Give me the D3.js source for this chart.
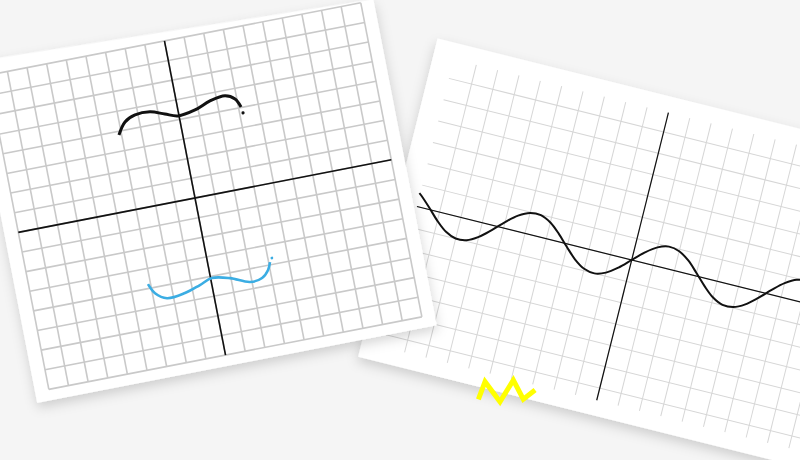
<!DOCTYPE html>
<html><head><meta charset="utf-8">
<script src="https://cdn.jsdelivr.net/npm/d3@7"></script>
<style>html,body{margin:0;padding:0;background:#f5f5f5;overflow:hidden}svg{display:block}</style>
</head><body>
<svg id="c" width="800" height="460"></svg>
<script>
// ---------- DATA (grid units) ----------
// left sheet
const leftXTicks = [-9,-8,-7,-6,-5,-4,-3,-2,-1,0,1,2,3,4,5,6,7,8,9,10];
const leftYTicks = [-8,-7,-6,-5,-4,-3,-2,-1,0,1,2,3,4,5,6,7,8];
const leftSheet = [[-9.7,8.8],[10.65,8.05],[10.65,-8.55],[-9.7,-8.55]];
const blackCurveX = [-3.13,-2.71,-2.15,-1.39,-0.68,-0.05,0.84,1.66,2.45,2.91,3.13];
const blackCurveY = [3.82,4.40,4.65,4.66,4.41,4.19,4.32,4.62,4.73,4.48,4.03];
const blackDot = [3.17,3.72];
const blueCurveX = [-3.13,-2.87,-2.33,-1.40,-0.59,0.07,0.96,1.90,2.53,2.90,3.07];
const blueCurveY = [-3.78,-4.29,-4.65,-4.57,-4.32,-4.09,-4.27,-4.65,-4.57,-4.23,-3.86];
const blueDot = [3.2,-3.68];
// right sheet
const rightXTicks = [-9,-8,-7,-6,-5,-4,-3,-2,-1,0,1,2,3,4,5,6,7,8,9,10,11,12,13,14];
const rightYTicks = [-6,-5,-4,-3,-2,-1,0,1,2,3,4,5,6];
const rightSheet = [[-11,7.64],[15,7.64],[15,-7.27],[-11,-7.27]];
const waveX = [-10.1,-10,-9.5,-9,-8.5,-8,-7.5,-7,-6.5,-6,-5.5,-5,-4.5,-4,-3.5,-3,-2.5,-2,-1.5,-1,-0.5,0,0.5,1,1.5,2,2.5,3,3.5,4,4.5,5,5.5,6,6.5,7,7.5,8,8.5,9,9.5,10,10.5,11];
const waveY = [0.62,0.54,0.08,-0.41,-0.80,-0.99,-0.94,-0.66,-0.22,0.28,0.71,0.96,0.98,0.76,0.35,-0.14,-0.60,-0.91,-1.00,-0.84,-0.48,0,0.48,0.84,1.00,0.91,0.60,0.14,-0.35,-0.76,-0.98,-0.96,-0.71,-0.28,0.22,0.66,0.94,0.99,0.80,0.41,0.08,-0.54,-0.88,-1.00];
const zigX = [-5.23,-5.13,-4.25,-3.90,-3.25,-2.83];
const zigY = [-7.83,-6.98,-7.70,-6.60,-7.33,-6.80];

// ---------- DRAW ----------
const svg = d3.select('#c');
svg.append('rect').attr('width',800).attr('height',460).attr('fill','#f5f5f5');
const defs = svg.append('defs');
const f = defs.append('filter').attr('id','sh').attr('x','-20%').attr('y','-20%').attr('width','140%').attr('height','140%');
f.append('feDropShadow').attr('dx',0).attr('dy',5).attr('stdDeviation',6).attr('flood-color','#000').attr('flood-opacity',0.16);

function sheet(g, xs, ys, poly) {
  const ln = d3.line().x(d=>xs(d[0])).y(d=>ys(d[1]));
  g.append('path').attr('d', ln(poly)+'Z').attr('fill','#fff').attr('filter','url(#sh)');
}
function grid(g, xs, ys, xt, yt, xr, yr, col, w) {
  g.append('g').selectAll('line').data(xt).join('line')
    .attr('x1',d=>xs(d)).attr('x2',d=>xs(d)).attr('y1',ys(yr[1])).attr('y2',ys(yr[0]))
    .attr('stroke',col).attr('stroke-width',w);
  g.append('g').selectAll('line').data(yt).join('line')
    .attr('y1',d=>ys(d)).attr('y2',d=>ys(d)).attr('x1',xs(xr[0])).attr('x2',xs(xr[1]))
    .attr('stroke',col).attr('stroke-width',w);
}
function axes(g, xs, ys, xr, yr, w) {
  g.append('line').attr('x1',xs(xr[0])).attr('x2',xs(xr[1])).attr('y1',ys(0)).attr('y2',ys(0)).attr('stroke','#111').attr('stroke-width',w);
  g.append('line').attr('x1',xs(0)).attr('x2',xs(0)).attr('y1',ys(yr[1])).attr('y2',ys(yr[0])).attr('stroke','#111').attr('stroke-width',w);
}

// right sheet
const xR = d3.scaleLinear().domain([-1,1]).range([-22,22]);
const yR = d3.scaleLinear().domain([-1,1]).range([22,-22]);
const gR = svg.append('g').attr('transform','translate(631.7,260) rotate(14)');
sheet(gR, xR, yR, rightSheet);
grid(gR, xR, yR, rightXTicks, rightYTicks, [-10.06,14.5], [-6.57,6.9], '#d6d6d6', 1);
axes(gR, xR, yR, [-10.06,14.5], [-6.57,6.9], 1.2);
const wave = waveX.map((x,i)=>[x,waveY[i]]);
gR.append('path').attr('d', d3.line().curve(d3.curveCatmullRom).x(d=>xR(d[0])).y(d=>yR(d[1]))(wave))
  .attr('fill','none').attr('stroke','#111').attr('stroke-width',2);
const zig = zigX.map((x,i)=>[x,zigY[i]]);
gR.append('path').attr('d', d3.line().x(d=>xR(d[0])).y(d=>yR(d[1]))(zig))
  .attr('fill','none').attr('stroke','#ffff00').attr('stroke-width',5).attr('stroke-linejoin','miter');

// left sheet
const xL = d3.scaleLinear().domain([-1,1]).range([-20,20]);
const yL = d3.scaleLinear().domain([-1,1]).range([20,-20]);
const gL = svg.append('g').attr('transform','translate(195,198) rotate(-11)');
sheet(gL, xL, yL, leftSheet);
grid(gL, xL, yL, leftXTicks, leftYTicks, [-9,10], [-8,8], '#c9c9c9', 1.6);
axes(gL, xL, yL, [-9,10], [-8,8], 1.6);
const lineL = d3.line().curve(d3.curveCatmullRom).x(d=>xL(d[0])).y(d=>yL(d[1]));
const blk = blackCurveX.map((x,i)=>[x,blackCurveY[i]]);
const blu = blueCurveX.map((x,i)=>[x,blueCurveY[i]]);
gL.append('path').attr('d', lineL(blk)).attr('fill','none').attr('stroke','#111').attr('stroke-width',3).attr('stroke-linecap','butt');
gL.append('path').attr('d', lineL(blu)).attr('fill','none').attr('stroke','#3badE3').attr('stroke-width',2.6);
gL.append('circle').attr('cx',xL(blackDot[0])).attr('cy',yL(blackDot[1])).attr('r',1.6).attr('fill','#111');
gL.append('circle').attr('cx',xL(blueDot[0])).attr('cy',yL(blueDot[1])).attr('r',1.4).attr('fill','#3badE3');
</script>
</body></html>
